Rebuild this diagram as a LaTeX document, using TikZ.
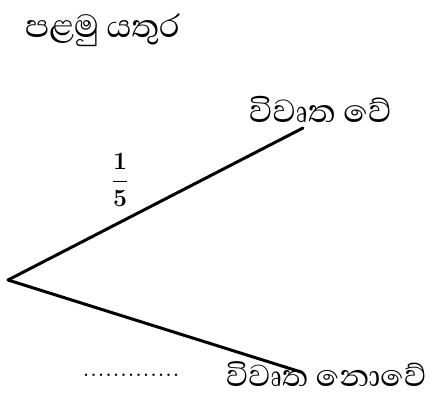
\documentclass[tikz,border=0pt]{standalone}
\usepackage{fontspec}
\newfontfamily\sinhalafont[Script=Sinhala]{Abhaya Libre}
\usepackage{amsmath}
\begin{document}
\begin{tikzpicture}[x=1pt,y=-1pt,
  lbl/.style={font=\sinhalafont\fontsize{41}{46}\selectfont, inner sep=0pt, anchor=base west},
  branch/.style={line width=3pt, line cap=round}]
\useasboundingbox (0,0) rectangle (442,401);
\node[lbl] (title) at (25,38) {පළමු යතුර};
\coordinate (root) at (8,280);
\coordinate (up) at (303,128);
\coordinate (down) at (301,372);
\node[lbl] (open) at (249,123) {විවෘත වේ};
\node[lbl, font=\sinhalafont\fontsize{39}{44}\selectfont] (notopen) at (226,386) {විවෘත නොවේ};
\node[inner sep=0pt] (frac) at (120,180) {\fontsize{24}{28}\selectfont$\boldsymbol{\dfrac{1}{5}}$};
\node[inner sep=0pt, anchor=base] (dots) at (131,376) {\fontsize{30}{32}\selectfont.............};
\draw[branch] (root) -- (up);
\draw[branch] (root) -- (down);
\end{tikzpicture}
\end{document}
